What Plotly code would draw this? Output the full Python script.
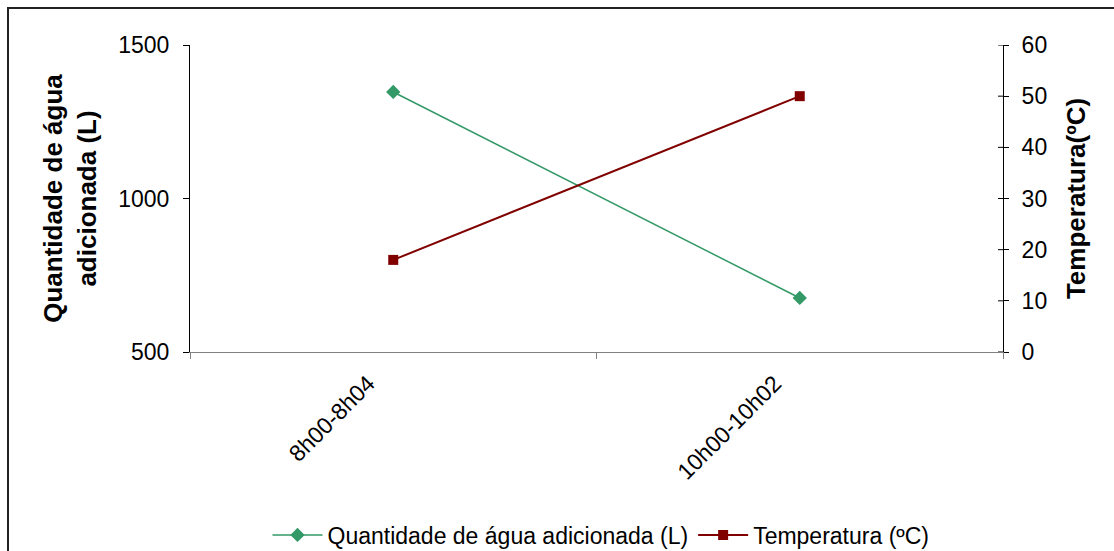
import plotly.graph_objects as go

periodos = ["8h00-8h04", "10h00-10h02"]
agua_l = [1347, 676]
temperatura_c = [18, 50]
temp_ticks = [0, 10, 20, 30, 40, 50, 60]

W, H = 1114, 551
ML, MR, MT, MB = 190, 111, 45, 199
PW = W - ML - MR

FONT = "Liberation Sans, Arial, sans-serif"

fig = go.Figure()
fig.add_trace(go.Scatter(
    x=periodos, y=agua_l, name="Quantidade de água adicionada (L)",
    mode="lines+markers",
    line=dict(color="#339966", width=1.5),
    marker=dict(symbol="diamond", size=11, color="#339966"),
    yaxis="y",
))
fig.add_trace(go.Scatter(
    x=periodos, y=temperatura_c, name="Temperatura (ºC)",
    mode="lines+markers",
    line=dict(color="#800000", width=2),
    marker=dict(symbol="square", size=10, color="#800000"),
    yaxis="y2",
))

# inward half of the crossing ticks on the right axis
shapes = []
for t in temp_ticks:
    shapes.append(dict(type="line", xref="paper", yref="y2",
                       x0=1 - 5 / PW, x1=1, y0=t, y1=t,
                       line=dict(color="black", width=1)))
# outer frame of the chart
shapes.append(dict(type="rect", xref="paper", yref="paper",
                   x0=(8 - ML) / PW, x1=1.3,
                   y0=-1.0, y1=1 + (MT - 8) / (H - MT - MB),
                   line=dict(color="#222222", width=2)))

fig.update_layout(
    width=W, height=H,
    margin=dict(l=ML, r=MR, t=MT, b=MB, autoexpand=False),
    paper_bgcolor="white", plot_bgcolor="white",
    font=dict(family=FONT, size=23, color="black"),
    showlegend=True,
    legend=dict(orientation="h", x=(601 - ML) / PW, xanchor="center",
                xref="paper", yref="container",
                y=1 - 535 / H, yanchor="middle",
                font=dict(size=23), itemwidth=50,
                tracegroupgap=0),
    xaxis=dict(
        type="category", range=[-0.5, 1.5],
        showline=True, linecolor="#808080", linewidth=1,
        ticks="outside", ticklen=6, tickcolor="#808080",
        tickson="boundaries", tickangle=-45,
        ticklabelstandoff=8, ticklabelshift=-25,
        showgrid=False, zeroline=False, automargin=False,
        tickfont=dict(size=23),
    ),
    yaxis=dict(
        range=[500, 1500], tickvals=[500, 1000, 1500],
        showline=True, linecolor="black", linewidth=1,
        ticks="outside", ticklen=6, tickcolor="black",
        ticklabelstandoff=9,
        showgrid=False, zeroline=False, automargin=False,
        tickfont=dict(size=23),
        title=dict(text="Quantidade de água<br>adicionada (L)",
                   font=dict(size=26, family=FONT, weight="bold"),
                   standoff=14),
    ),
    yaxis2=dict(
        range=[0, 60], tickvals=temp_ticks,
        overlaying="y", side="right",
        showline=True, linecolor="black", linewidth=1,
        ticks="outside", ticklen=5, tickcolor="black",
        ticklabelstandoff=8,
        showgrid=False, zeroline=False, automargin=False,
        tickfont=dict(size=23),
        title=dict(text="Temperatura(ºC)",
                   font=dict(size=26, family=FONT, weight="bold"),
                   standoff=20),
    ),
    shapes=shapes,
)

fig.write_html("out.html")
